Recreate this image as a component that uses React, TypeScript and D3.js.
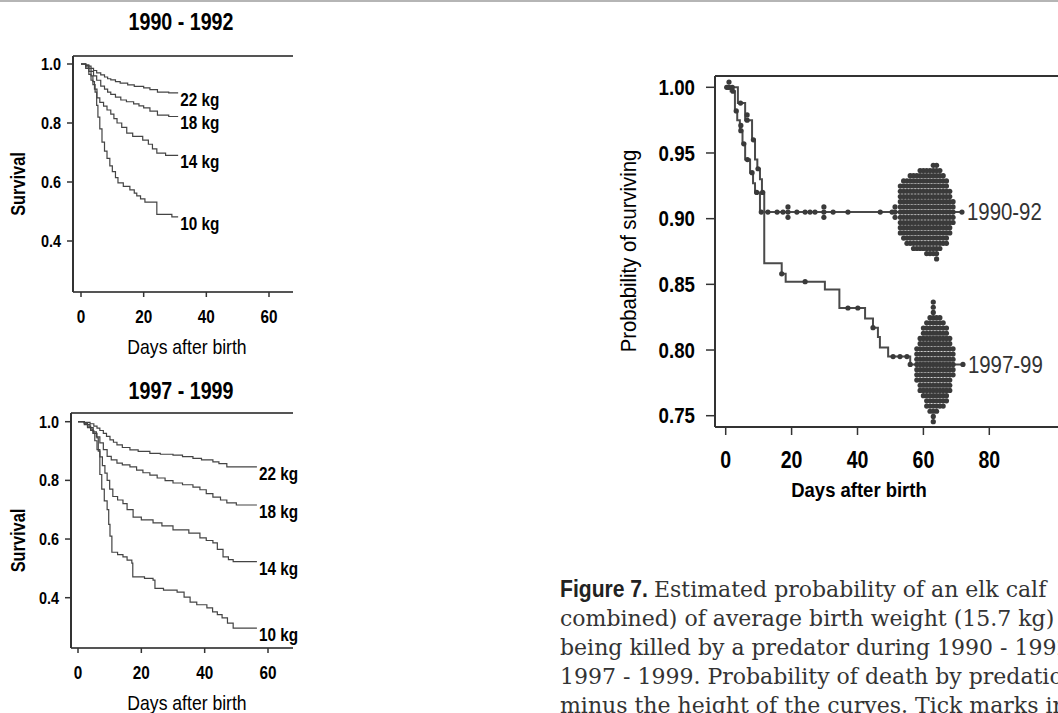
import React from 'react';
import * as d3 from 'd3';

const W = 1058;
const H = 713;

const sans = "'Liberation Sans', Arial, sans-serif";
const serif = "'DejaVu Serif', 'Liberation Serif', serif";

// small panels (survival by birth weight)
const smallXTicks = [0, 20, 40, 60];
const smallYTicks = [0.4, 0.6, 0.8, 1.0];
const weightLabels = ['22 kg', '18 kg', '14 kg', '10 kg'];

// 1990 - 1992, [day, survival]
const s90kg22 = [[0,1],[1.5,0.997],[2.5,0.993],[3.2,0.985],[4,0.978],[5,0.97],[6.3,0.963],[7.5,0.956],[8.5,0.95],[9.5,0.946],[11,0.94],[12.5,0.935],[14.9,0.929],[17,0.924],[20,0.919],[22,0.913],[24.4,0.905],[28,0.902]];
const s90kg18 = [[0,1],[1.5,0.995],[2.5,0.985],[3.2,0.975],[4,0.96],[5,0.945],[6.3,0.925],[7.5,0.915],[8.5,0.905],[9.5,0.897],[11,0.888],[12.7,0.878],[14.5,0.872],[16.8,0.865],[18.5,0.858],[20,0.851],[22,0.84],[24.4,0.827],[28,0.822]];
const s90kg14 = [[0,1],[1.5,0.99],[2.5,0.975],[3.2,0.96],[3.8,0.94],[4.3,0.915],[5.1,0.885],[6,0.87],[7.2,0.857],[8.3,0.844],[9.5,0.83],[10.5,0.815],[11.5,0.8],[13,0.785],[14.6,0.766],[16.5,0.755],[19.7,0.742],[21.5,0.728],[22.8,0.712],[24.2,0.698],[27,0.69]];
const s90kg10 = [[0,1],[1.5,0.985],[2.5,0.965],[3.2,0.945],[3.8,0.93],[4.5,0.905],[5,0.86],[5.4,0.82],[6,0.78],[6.7,0.735],[7.5,0.705],[8.3,0.68],[9.2,0.655],[10,0.635],[11,0.615],[11.8,0.597],[13.5,0.585],[15.6,0.573],[17,0.562],[17.8,0.553],[19,0.543],[20.4,0.532],[24.2,0.49],[29,0.482]];
const end90 = 31;

// 1997 - 1999, [day, survival]
const s97kg22 = [[0,1],[2,0.998],[3.8,0.993],[5,0.985],[6,0.978],[6.9,0.97],[8,0.96],[9,0.95],[10.1,0.938],[11.2,0.93],[12.3,0.921],[14,0.912],[16.4,0.904],[19,0.899],[22.7,0.892],[26,0.889],[30,0.886],[33,0.881],[36.3,0.875],[39,0.87],[42.6,0.863],[44.5,0.857],[47,0.846]];
const s97kg18 = [[0,1],[2,0.995],[3,0.99],[3.8,0.98],[4.8,0.965],[5.8,0.948],[6.9,0.928],[8,0.905],[9.2,0.882],[10.5,0.87],[12.3,0.859],[14,0.853],[16.4,0.846],[18.5,0.835],[20.5,0.826],[22.7,0.818],[25,0.808],[27.5,0.799],[30,0.791],[33,0.785],[36.3,0.777],[38.5,0.768],[40.5,0.755],[42.6,0.743],[45,0.733],[47,0.723],[50,0.716]];
const s97kg14 = [[0,1],[2,0.993],[3,0.985],[4,0.975],[4.7,0.96],[5.3,0.935],[6,0.905],[6.9,0.88],[7.7,0.85],[8.5,0.825],[9.2,0.8],[10,0.77],[11,0.745],[12.5,0.733],[14.2,0.721],[15.5,0.7],[17.4,0.675],[20,0.665],[23.7,0.655],[26.5,0.645],[30,0.631],[35,0.62],[38.5,0.604],[40.5,0.595],[42.6,0.587],[44,0.565],[45.8,0.539],[47.5,0.53],[49,0.523]];
const s97kg10 = [[0,1],[2,0.99],[3,0.98],[4,0.97],[5,0.96],[6,0.945],[6.4,0.9],[6.9,0.82],[7.5,0.77],[8.3,0.73],[9.2,0.7],[9.7,0.65],[10.1,0.61],[10.7,0.555],[12.5,0.547],[14.2,0.539],[15.5,0.528],[17,0.518],[17.3,0.471],[21,0.466],[23.7,0.46],[24.3,0.432],[27,0.426],[31.3,0.419],[33.5,0.402],[35.4,0.385],[37.5,0.376],[40.7,0.365],[42.5,0.352],[44,0.342],[45.5,0.331],[47.2,0.313],[49,0.296]];
const end97 = 56.5;

// big chart: probability of surviving, average weight
const bigXTicks = [0, 20, 40, 60, 80];
const bigYTicks = [0.75, 0.8, 0.85, 0.9, 0.95, 1.0];
const line90 = [[0,1],[1.5,0.997],[2.8,0.982],[3.5,0.975],[4.3,0.967],[5.1,0.957],[5.9,0.945],[7.4,0.935],[8.3,0.927],[8.9,0.92],[10.4,0.905]];
const line97 = [[0,1],[3.7,0.988],[5.9,0.975],[8,0.96],[8.9,0.945],[9.6,0.938],[10.4,0.93],[11,0.92],[11.7,0.866],[17,0.858],[18.2,0.852],[30.1,0.846],[34.5,0.832],[42.3,0.824],[44.7,0.817],[46.2,0.81],[46.8,0.802],[49.3,0.795],[56,0.789]];
const bigEnd90 = 71.7;
const bigEnd97 = 72;
// censored calves, [day, count]
const cens90 = [[0.3,1],[1,2],[2.2,1],[3.2,1],[4.6,2],[5.5,1],[6.6,1],[8,1],[9.4,1],[10.8,1],[12.8,1],[15.6,1],[17.4,1],[18.9,3],[21.6,1],[24.1,1],[25.6,1],[27.1,1],[29.8,3],[32.6,1],[37.1,1],[46.9,1],[50.5,1],[51.4,3],[71.7,1]];
const swarm90 = [[53,10],[54,12],[55,13],[56,14],[57,15],[58,15],[59,16],[60,16],[61,17],[62,17],[63,18],[64,19],[65,16],[66,14],[67,13],[68,9],[69,5]];
const cens97 = [[0.8,1],[2,1],[4.5,1],[6.5,2],[8.4,1],[9.8,1],[11.2,1],[17,1],[24.1,1],[37.1,1],[40.1,1],[44.7,1],[50.8,1],[52.9,1],[55,1],[56,1],[72,1]];
const swarm97 = [[58,7],[59,11],[60,14],[61,17],[62,19],[63,24],[64,19],[65,18],[66,17],[67,15],[68,11],[69,6]];

const captionFirst = ' Estimated probability of an elk calf';
const captionLines = [
  'combined) of average birth weight (15.7 kg)',
  'being killed by a predator during 1990 - 1992',
  '1997 - 1999. Probability of death by predation',
  'minus the height of the curves. Tick marks in',
];

const valueAt = (pts: number[][], t: number) => {
  let v = pts[0][1];
  for (const p of pts) if (p[0] <= t) v = p[1];
  return v;
};

// condensed text: horizontal squeeze around the anchor
function NText({ x, y, sx = 0.85, rotate = 0, children, ...rest }: any) {
  return (
    <text
      transform={`translate(${x},${y}) rotate(${rotate}) scale(${sx},1)`}
      fontFamily={sans}
      dominantBaseline="central"
      {...rest}
    >
      {children}
    </text>
  );
}

function SmallPanel({ title, titleY, frame, xRange, yRange, curves, endDay }: any) {
  const x = d3.scaleLinear().domain([0, 60]).range(xRange);
  const y = d3.scaleLinear().domain([0.4, 1.0]).range(yRange);
  const line = d3.line<number[]>().x(d => x(d[0])).y(d => y(d[1])).curve(d3.curveStepAfter);
  const midY = (frame.top + frame.bottom) / 2 + 10;
  return (
    <g>
      <NText x={181} y={titleY} sx={0.82} textAnchor="middle" fontWeight="bold" fontSize={24}>{title}</NText>
      <line x1={frame.left} x2={frame.right} y1={frame.top} y2={frame.top} stroke="#555" strokeWidth={2} />
      <line x1={frame.left} x2={frame.right} y1={frame.bottom} y2={frame.bottom} stroke="#555" strokeWidth={2} />
      <line x1={frame.left} x2={frame.left} y1={frame.top} y2={frame.bottom} stroke="#333" strokeWidth={2} />
      {smallYTicks.map(t => (
        <g key={t}>
          <line x1={frame.left - 6} x2={frame.left} y1={y(t)} y2={y(t)} stroke="#333" strokeWidth={1.5} />
          <NText x={frame.left - 12} y={y(t)} textAnchor="end" fontWeight="bold" fontSize={17}>{t.toFixed(1)}</NText>
        </g>
      ))}
      {smallXTicks.map(t => (
        <g key={t}>
          <line x1={x(t)} x2={x(t)} y1={frame.bottom} y2={frame.bottom + 5} stroke="#333" strokeWidth={1.5} />
          <NText x={x(t)} y={frame.bottom + 25} textAnchor="middle" fontWeight="bold" fontSize={18}>{t}</NText>
        </g>
      ))}
      <NText x={18} y={midY} rotate={-90} sx={0.82} textAnchor="middle" fontWeight="bold" fontSize={20}>Survival</NText>
      <NText x={187} y={frame.bottom + 55} sx={0.88} textAnchor="middle" fontSize={20}>Days after birth</NText>
      {curves.map((c: number[][], i: number) => {
        const pts = [...c, [endDay, c[c.length - 1][1]]];
        return (
          <g key={i}>
            <path d={line(pts) || ''} fill="none" stroke="#444" strokeWidth={1.2} />
            <NText x={x(endDay) + 2} y={y(c[c.length - 1][1]) + 7} fontWeight="bold" fontSize={18}>{weightLabels[i]}</NText>
          </g>
        );
      })}
    </g>
  );
}

function BigChart() {
  const frame = { left: 715, top: 76, bottom: 427, right: 1075 };
  const x = d3.scaleLinear().domain([0, 80]).range([725.7, 989.3]);
  const y = d3.scaleLinear().domain([0.75, 1.0]).range([415.7, 87.3]);
  const line = d3.line<number[]>().x(d => x(d[0])).y(d => y(d[1])).curve(d3.curveStepAfter);
  const gap = 5.2;
  const dots = (pts: number[][], groups: number[][]) => {
    const out: { cx: number; cy: number }[] = [];
    groups.forEach(([day, n]) => {
      const base = y(valueAt(pts, day));
      for (let k = 0; k < n; k++) {
        const step = Math.ceil(k / 2) * (k % 2 === 1 ? -1 : 1);
        out.push({ cx: x(day), cy: base + step * gap });
      }
    });
    return out;
  };
  const series = [
    { pts: line90, end: bigEnd90, groups: [...cens90, ...swarm90], label: '1990-92' },
    { pts: line97, end: bigEnd97, groups: [...cens97, ...swarm97], label: '1997-99' },
  ];
  return (
    <g>
      <line x1={frame.left} x2={frame.right} y1={frame.top} y2={frame.top} stroke="#333" strokeWidth={2} />
      <line x1={frame.left} x2={frame.right} y1={frame.bottom} y2={frame.bottom} stroke="#333" strokeWidth={2} />
      <line x1={frame.left} x2={frame.left} y1={frame.top} y2={frame.bottom} stroke="#333" strokeWidth={2} />
      {bigYTicks.map(t => (
        <g key={t}>
          <line x1={frame.left - 9} x2={frame.left} y1={y(t)} y2={y(t)} stroke="#333" strokeWidth={1.5} />
          <NText x={695} y={y(t)} textAnchor="end" fontWeight="bold" fontSize={22}>{t.toFixed(2)}</NText>
        </g>
      ))}
      {bigXTicks.map(t => (
        <g key={t}>
          <line x1={x(t)} x2={x(t)} y1={frame.bottom} y2={frame.bottom + 8} stroke="#333" strokeWidth={1.5} />
          <NText x={x(t)} y={frame.bottom + 33} textAnchor="middle" fontWeight="bold" fontSize={23}>{t}</NText>
        </g>
      ))}
      <NText x={628} y={251} rotate={-90} sx={0.92} textAnchor="middle" fontSize={22}>Probability of surviving</NText>
      <NText x={859} y={frame.bottom + 63} sx={0.88} textAnchor="middle" fontWeight="bold" fontSize={21}>Days after birth</NText>
      {series.map(s => {
        const last = s.pts[s.pts.length - 1][1];
        const pts = [...s.pts, [s.end, last]];
        return (
          <g key={s.label}>
            <path d={line(pts) || ''} fill="none" stroke="#4a4a4a" strokeWidth={2} />
            {dots(s.pts, s.groups).map((d, i) => (
              <circle key={i} cx={d.cx} cy={d.cy} r={2.6} fill="#3a3a3a" />
            ))}
            <NText x={x(s.end) + 5} y={y(last)} fontSize={24} fill="#333">{s.label}</NText>
          </g>
        );
      })}
    </g>
  );
}

export default function App() {
  return (
    <svg width={W} height={H} style={{ position: 'absolute', left: 0, top: 0, background: '#fff' }}>
      <line x1={0} x2={W} y1={1} y2={1} stroke="#b5b5b5" strokeWidth={2} />
      <SmallPanel
        title="1990 - 1992"
        titleY={22}
        frame={{ left: 73, top: 56, bottom: 292, right: 293 }}
        xRange={[81, 269]}
        yRange={[241, 64]}
        curves={[s90kg22, s90kg18, s90kg14, s90kg10]}
        endDay={end90}
      />
      <SmallPanel
        title="1997 - 1999"
        titleY={391}
        frame={{ left: 71, top: 413, bottom: 648, right: 293 }}
        xRange={[78, 268]}
        yRange={[597.7, 421.7]}
        curves={[s97kg22, s97kg18, s97kg14, s97kg10]}
        endDay={end97}
      />
      <BigChart />
      <g fontFamily={serif} fontSize={22} fill="#333">
        <NText x={560} y={589} sx={0.88} fontWeight="bold" fontSize={24} fill="#222">Figure 7.</NText>
        <text x={654} y={597}>{captionFirst}</text>
        {captionLines.map((l, i) => (
          <text key={i} x={560} y={626 + i * 29}>{l}</text>
        ))}
      </g>
    </svg>
  );
}
